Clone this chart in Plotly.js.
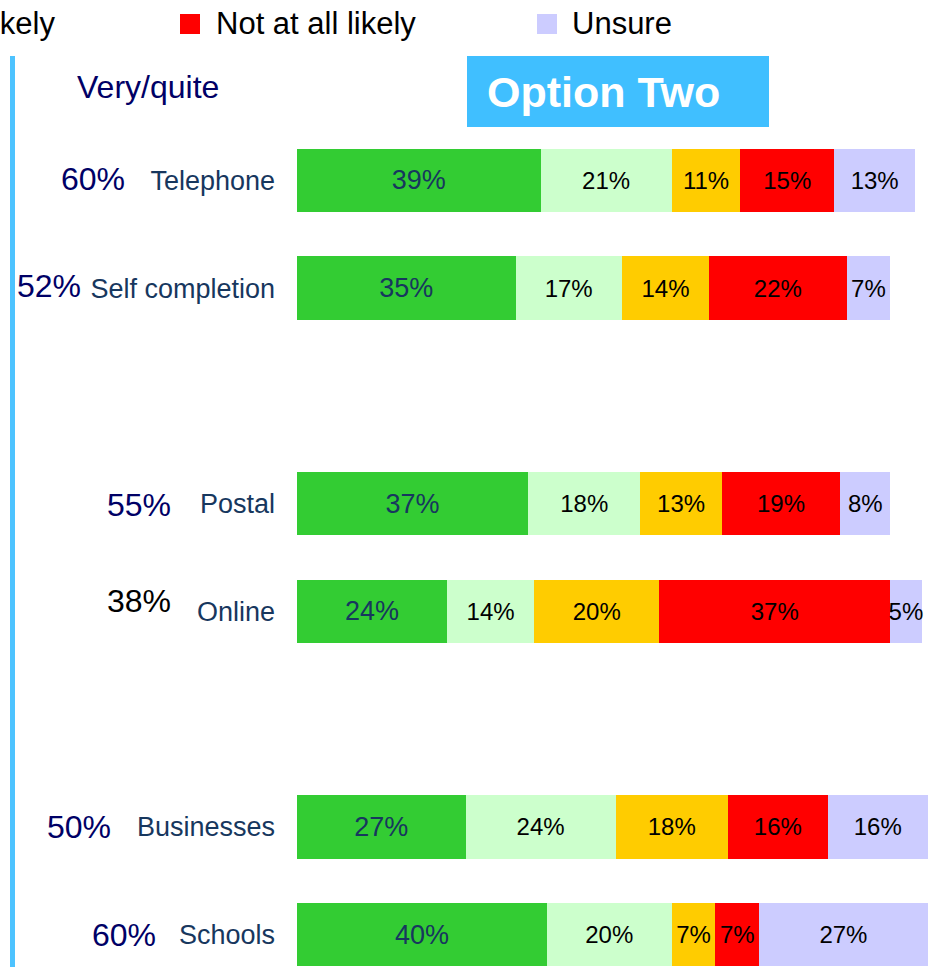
<!DOCTYPE html>
<html>
<head>
<meta charset="utf-8">
<script src="https://cdn.plot.ly/plotly-3.0.1.min.js"></script>
<style>html,body{margin:0;padding:0;background:#fff;}#chart{width:936px;height:967px;}</style>
</head>
<body>
<div id="chart"></div>
<script>
// ---------- DATA ----------
const groups = [["Telephone", "Self completion"], ["Postal", "Online"], ["Businesses", "Schools"]];
const categories = ["Telephone", "Self completion", "Postal", "Online", "Businesses", "Schools"];
const seriesNames = ["Very likely", "Quite likely", "Not very likely", "Not at all likely", "Unsure"];
const veryLikely     = [39, 35, 37, 24, 27, 40];
const quiteLikely    = [21, 17, 18, 14, 24, 20];
const notVeryLikely  = [11, 14, 13, 20, 18, 7];
const notAtAllLikely = [15, 22, 19, 37, 16, 7];
const unsure         = [13, 7, 8, 5, 16, 27];
const veryQuite      = [60, 52, 55, 38, 50, 60];
const headerText = "Very/quite";
const optionText = "Option Two";

// ---------- LAYOUT / STYLE ----------
const W = 936, H = 967;
const M = {l: 297, r: 2, t: 51, b: 0};
const PW = W - M.l - M.r, PH = H - M.t - M.b;
const xMax = 102;
const yTop = -1.2, yBot = 7.30;
const colors = ["#33CC33", "#CCFFCC", "#FFCC00", "#FF0000", "#CCCCFF"];
const textColors = ["#17375E", "#000000", "#000000", "#000000", "#000000"];
const textSizes = [27, 24, 24, 24, 24];
const FONT = "Liberation Sans, Arial, sans-serif";

// slot positions: one empty slot between groups
const pos = [];
groups.forEach((g, gi) => g.forEach((c, ci) => pos.push(gi * 3 + ci)));

const series = [veryLikely, quiteLikely, notVeryLikely, notAtAllLikely, unsure];
const traces = series.map((vals, k) => ({
  type: "bar",
  orientation: "h",
  name: seriesNames[k],
  x: vals,
  y: pos,
  width: 0.59,
  marker: {color: colors[k], line: {width: 0}},
  text: vals.map(v => v + "%"),
  textposition: "inside",
  insidetextanchor: "middle",
  textangle: 0,
  constraintext: "none",
  textfont: {family: FONT, size: textSizes[k], color: textColors[k]},
  hoverinfo: "skip",
  showlegend: false
}));

// pixel helpers for paper coordinates
const px = x => (x - M.l) / PW;
const py = y => (H - M.b - y) / PH;

// left-hand "very/quite" figures (pixel centres, colour)
const vqPlace = [[93, 179, "#000066"], [49, 286, "#000066"], [139, 505, "#000066"], [139, 601, "#000000"], [79, 827, "#000066"], [124, 935, "#000066"]];

const annotations = [];
veryQuite.forEach((v, i) => {
  annotations.push({
    xref: "paper", yref: "paper", x: px(vqPlace[i][0]), y: py(vqPlace[i][1]),
    xanchor: "center", yanchor: "middle", showarrow: false,
    text: v + "%", font: {family: FONT, size: 32, color: vqPlace[i][2]}
  });
});
annotations.push({
  xref: "paper", yref: "paper", x: px(148), y: py(87), xanchor: "center", yanchor: "middle",
  showarrow: false, text: headerText, font: {family: FONT, size: 32, color: "#000066"}
});
annotations.push({
  xref: "paper", yref: "paper", x: px(485), y: py(92), xanchor: "left", yanchor: "middle",
  showarrow: false, text: "<b>" + optionText + "</b>", font: {family: FONT, size: 43, color: "#FFFFFF"}
});
// legend (partly cut off at the left edge, as in the original)
const legendItems = [
  {k: 2, sq: null, textRight: 57},
  {k: 3, sq: 180, textLeft: 214},
  {k: 4, sq: 537, textLeft: 570}
];
const shapes = [];
legendItems.forEach(it => {
  if (it.textRight !== undefined) {
    annotations.push({xref: "paper", yref: "paper", x: px(it.textRight), y: py(23), xanchor: "right", yanchor: "middle",
      showarrow: false, text: seriesNames[it.k], font: {family: FONT, size: 31, color: "#000000"}});
  } else {
    annotations.push({xref: "paper", yref: "paper", x: px(it.textLeft), y: py(23), xanchor: "left", yanchor: "middle",
      showarrow: false, text: seriesNames[it.k], font: {family: FONT, size: 31, color: "#000000"}});
    shapes.push({type: "rect", xref: "paper", yref: "paper", x0: px(it.sq), x1: px(it.sq + 20), y0: py(34), y1: py(14),
      fillcolor: colors[it.k], line: {width: 0}});
  }
});
// option box
shapes.push({type: "rect", xref: "paper", yref: "paper", x0: px(467), x1: px(769), y0: py(127), y1: py(56),
  fillcolor: "#40BFFF", line: {width: 0}, layer: "below"});
// vertical rule
shapes.push({type: "line", xref: "paper", yref: "paper", x0: px(12.5), x1: px(12.5), y0: py(56), y1: py(H + 5),
  line: {color: "#4DC3FF", width: 5}});

const layout = {
  width: W, height: H,
  margin: M,
  barmode: "stack",
  bargap: 0,
  paper_bgcolor: "#FFFFFF", plot_bgcolor: "#FFFFFF",
  font: {family: FONT},
  xaxis: {range: [0, xMax], visible: false, fixedrange: true},
  yaxis: {
    range: [yBot, yTop],
    tickmode: "array", tickvals: pos, ticktext: categories,
    tickfont: {family: FONT, size: 27, color: "#17375E"},
    ticks: "", ticklabelstandoff: 21,
    showgrid: false, zeroline: false, showline: false, fixedrange: true
  },
  annotations: annotations,
  shapes: shapes,
  showlegend: false
};

Plotly.newPlot("chart", traces, layout, {displayModeBar: false, staticPlot: true});
</script>
</body>
</html>
